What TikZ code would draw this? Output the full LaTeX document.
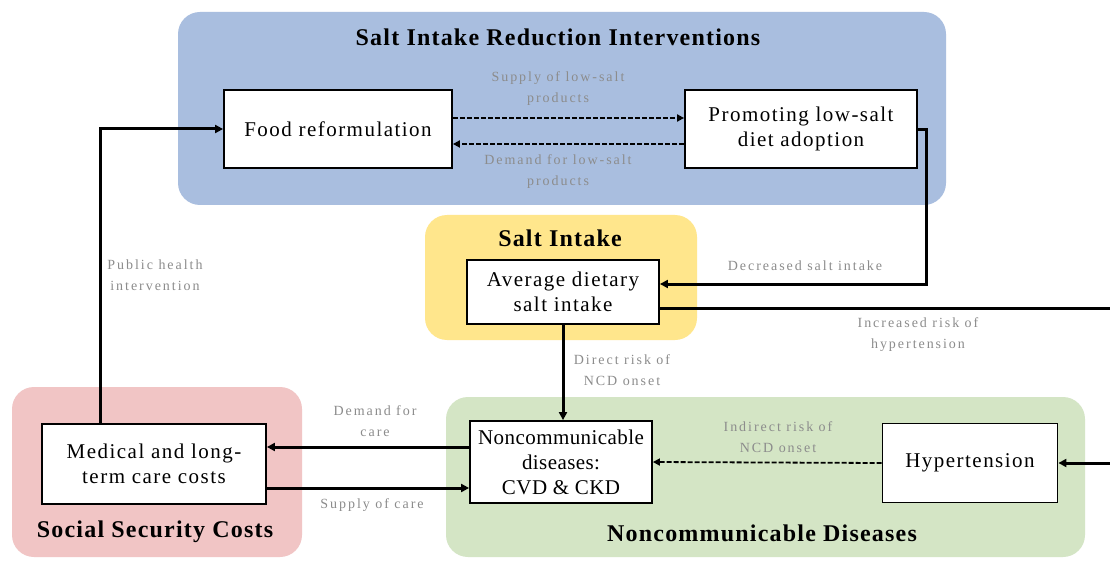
\documentclass[tikz,border=0pt]{standalone}
\usepackage{fontspec}
\setmainfont{Liberation Serif}
\newfontfamily\lblfont[LetterSpace=14]{Liberation Serif}
\newfontfamily\boxfont[LetterSpace=7]{Liberation Serif}
\newfontfamily\tightboxfont[LetterSpace=2]{Liberation Serif}
\newfontfamily\ttlfont[LetterSpace=5]{Liberation Serif}
\usetikzlibrary{arrows.meta}
\definecolor{blueR}{RGB}{169,190,223}
\definecolor{yellowR}{RGB}{255,230,140}
\definecolor{pinkR}{RGB}{241,197,197}
\definecolor{greenR}{RGB}{212,229,197}
\definecolor{lblgray}{RGB}{140,140,140}
\begin{document}
\begin{tikzpicture}[x=1pt,y=-1pt,
 region/.style={fill=#1, rounded corners=22pt, draw=none},
 box/.style={draw=black, line width=1.8pt, fill=white, align=center, font=\boxfont\fontsize{21}{25}\selectfont, inner sep=0pt},
 ttl/.style={font=\ttlfont\bfseries\fontsize{24}{28}\selectfont},
 lbl/.style={text=lblgray, align=center, font=\lblfont\fontsize{14}{21}\selectfont},
 conn/.style={line width=3pt, -{Triangle[length=8pt,width=8pt]}},
 dconn/.style={line width=1.8pt, dash pattern=on 5pt off 2pt, -{Triangle[length=7pt,width=7pt]}}
]
\clip (0,0) rectangle (1110,561);
\fill[white] (0,0) rectangle (1110,561);
% regions
\fill[region=blueR] (178,12) rectangle (946,205);
\fill[region=yellowR] (425,215) rectangle (697,340);
\fill[region=greenR] (446,397) rectangle (1085,557);
\fill[region=pinkR] (12,387) rectangle (302,557);
% titles
\node[ttl] (t1) at (558,37) {Salt Intake Reduction Interventions};
\node[ttl] (t2) at (560,238) {Salt Intake};
\node[ttl] (t3) at (762,533) {Noncommunicable Diseases};
\node[ttl] (t4) at (155,532) {Social Security Costs};
% boxes
\node[box, minimum width=228pt, minimum height=78pt] (food) at (338,129) {Food reformulation};
\node[box, minimum width=232pt, minimum height=78pt] (prom) at (801,129) {Promoting low-salt\\diet adoption};
\node[box, minimum width=192pt, minimum height=64pt] (avg) at (563,292) {Average dietary\\salt intake};
\node[box, minimum width=182pt, minimum height=82pt, font=\tightboxfont\fontsize{21}{25}\selectfont] (ncd) at (561,462) {Noncommunicable\\diseases:\\CVD \& CKD};
\node[box, minimum width=175pt, minimum height=79pt] (hyp) at (970,463) {Hypertension};
\node[box, minimum width=224pt, minimum height=80pt] (med) at (154,464) {Medical and long-\\term care costs};
% off-canvas route
\coordinate (offA) at (1130,308);
\coordinate (offB) at (1130,463);
% connectors
\draw[dconn] ([yshift=11pt]food.east) -- ([yshift=11pt]prom.west);
\draw[dconn] ([yshift=-15pt]prom.west) -- ([yshift=-15pt]food.east);
\draw[conn] ([yshift=-1pt]prom.east) -- ++(9,0) |- ([yshift=8pt]avg.east);
\draw[line width=3pt] ([yshift=-16pt]avg.east) -- (offA);
\draw[conn] (offB) -- (hyp.east);
\draw[conn] (avg.south) -- (avg.south |- ncd.north);
\draw[dconn] (hyp.west) -- (ncd.east);
\draw[conn] ([yshift=15pt]ncd.west) -- ([yshift=15pt]ncd.west -| med.east);
\draw[conn] ([yshift=-24pt]med.east) -- ([yshift=-24pt]med.east -| ncd.west);
\draw[conn] ([xshift=-54pt]med.north) |- (food.west);
% labels
\node[lbl] (l1) at (558,89) {Supply of low-salt\\products};
\node[lbl] (l2) at (558,172) {Demand for low-salt\\products};
\node[lbl] (l3) at (805,266) {Decreased salt intake};
\node[lbl] (l4) at (918,335) {Increased risk of\\hypertension};
\node[lbl] (l5) at (622,370) {Direct risk of\\NCD onset};
\node[lbl] (l6) at (778,437) {Indirect risk of\\NCD onset};
\node[lbl] (l7) at (375,421) {Demand for\\care};
\node[lbl] (l8) at (372,505) {Supply of care};
\node[lbl] (l9) at (155,275) {Public health\\intervention};
\end{tikzpicture}
\end{document}
